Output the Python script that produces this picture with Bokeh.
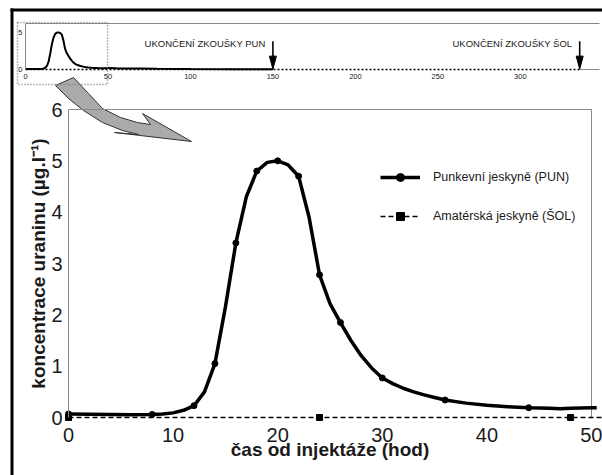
from bokeh.plotting import figure
from bokeh.models import (Range1d, FixedTicker, Legend, LegendItem, LinearAxis)
from bokeh.core.properties import value
from bokeh.embed import file_html
from bokeh.resources import INLINE

# ---------------- data ----------------
# Punkevní jeskyně (PUN) – curve
pun_curve_hours = [0, 2, 4, 6, 8, 9, 10, 11, 12, 13, 14, 15, 16, 17, 18, 19, 20, 21,
                   22, 23, 24, 25, 26, 27, 28, 29, 30, 31, 32, 33, 34, 35, 36, 38,
                   40, 42, 44, 46, 47, 48, 50, 50.5]
pun_curve_vals = [0.07, 0.065, 0.06, 0.055, 0.06, 0.07, 0.09, 0.14, 0.23, 0.5, 1.05,
                  2.15, 3.4, 4.3, 4.8, 4.97, 5.0, 4.92, 4.7, 3.9, 2.78, 2.22, 1.85,
                  1.5, 1.2, 0.96, 0.77, 0.66, 0.57, 0.5, 0.44, 0.39, 0.34, 0.28,
                  0.24, 0.21, 0.19, 0.18, 0.17, 0.18, 0.19, 0.19]
# PUN sampled points (markers)
pun_marker_hours = [0, 8, 12, 14, 16, 18, 20, 22, 24, 26, 30, 36, 44]
pun_marker_vals = [0.07, 0.06, 0.23, 1.05, 3.4, 4.8, 5.0, 4.7, 2.78, 1.85, 0.77, 0.34, 0.19]
# PUN tail after 50 h (inset only)
pun_tail_hours = [55, 60, 70, 80, 100, 125, 150]
pun_tail_vals = [0.17, 0.15, 0.12, 0.09, 0.06, 0.04, 0.03]

# Amatérská jeskyně (ŠOL) – sampled every 24 h, all zero
sol_hours = [0, 24, 48, 72, 96, 120, 144, 168, 192, 216, 240, 264, 288, 312, 336]
sol_vals = [0, 0, 0, 0, 0, 0, 0, 0, 0, 0, 0, 0, 0, 0, 0]

# end of the tests (hours)
test_end_hours = [150, 336]
test_end_texts = ["UKONČENÍ ZKOUŠKY PUN", "UKONČENÍ ZKOUŠKY ŠOL"]

main_x_ticks = [0, 10, 20, 30, 40, 50]
main_y_ticks = [0, 1, 2, 3, 4, 5, 6]
inset_x_ticks = [0, 50, 100, 150, 200, 250, 300]
inset_y_ticks = [0, 5]

x_title = "čas od injektáže (hod)"
y_title = "koncentrace uraninu (µg.l⁻¹)"
pun_label = "Punkevní jeskyně (PUN)"
sol_label = "Amatérská jeskyně (ŠOL)"

# ---------------- layout constants (page pixels) ----------------
FONT = "Liberation Sans"
GRAY = "#888888"
TXT = "#1a1a1a"
CX0, CY0, CW, CH = 0, 0, 602, 475           # canvas on the page
CX1, CY1 = CX0 + CW, CY0 + CH

# main plot box (page px) and its data limits
M_L, M_R, M_T, M_B = 68, 591, 109, 417
M_XMAX, M_YMAX = 50.0, 6.0
# inset box (page px) and its data limits
I_L, I_R, I_T, I_B = 25, 599, 23, 69
I_XMAX, I_YMAX = 348.0, 6.2


def span(p0, p1, d0, d1, c0, c1):
    """range over canvas pixels c0..c1 so that pixel p0->d0 and p1->d1"""
    k = (d1 - d0) / (p1 - p0)
    return Range1d(d0 + (c0 - p0) * k, d0 + (c1 - p0) * k)


p = figure(width=CW, height=CH,
           x_range=span(M_L, M_R, 0, M_XMAX, CX0, CX1),
           y_range=span(M_B, M_T, 0, M_YMAX, CY1, CY0),
           x_axis_location=None, y_axis_location=None,
           output_backend="svg", toolbar_location=None,
           min_border=0, min_border_left=0, min_border_right=0,
           min_border_top=0, min_border_bottom=0)
p.extra_x_ranges = {"ix": span(I_L, I_R, 0, I_XMAX, CX0, CX1), "px": Range1d(CX0, CX1)}
p.extra_y_ranges = {"iy": span(I_B, I_T, 0, I_YMAX, CY1, CY0), "py": Range1d(CY1, CY0)}
p.grid.visible = False
p.outline_line_color = None


def style_axis(ax, size):
    ax.axis_line_color = GRAY
    ax.major_tick_line_color = None
    ax.minor_tick_line_color = None
    ax.major_tick_out = 0
    ax.major_tick_in = 0
    ax.major_label_text_font = FONT
    ax.major_label_text_font_size = size
    ax.major_label_text_color = TXT


# ---------------- decorations: page border, zoom box, pointer ----------------
p.segment(x0=[10, 11.5], y0=[9.5, 8], x1=[CX1, 11.5], y1=[9.5, CY1],
          x_range_name="px", y_range_name="py", line_color="black", line_width=3)

# curved grey pointer (page px)
arrow_px = [(55, 85), (73, 77), (88, 93), (102, 108), (120, 117), (137, 122), (150, 124),
            (142, 113), (191, 141), (114, 132), (138, 134), (122, 130), (102, 122),
            (83, 110), (68, 98)]
p.patch([a for a, b in arrow_px], [b for a, b in arrow_px],
        x_range_name="px", y_range_name="py",
        fill_color="#aaaaaa", line_color="#333333", line_width=1)

# ---------------- inset ----------------
# inset frame top line and the bare axis after the ŠOL test end
p.segment(x0=[0, test_end_hours[1]], y0=[I_YMAX, 0], x1=[I_XMAX, I_XMAX], y1=[I_YMAX, 0],
          x_range_name="ix", y_range_name="iy", line_color=GRAY, line_width=1)
iax = LinearAxis(x_range_name="ix", y_range_name="iy", fixed_location=0,
                 bounds=(0, I_XMAX), ticker=FixedTicker(ticks=inset_x_ticks))
style_axis(iax, "7.5px")
iax.axis_line_color = None
iax.major_label_standoff = 4
p.add_layout(iax, "below")
iay = LinearAxis(x_range_name="ix", y_range_name="iy", fixed_location=0,
                 bounds=(0, I_YMAX), ticker=FixedTicker(ticks=inset_y_ticks))
style_axis(iay, "7.5px")
iay.major_label_standoff = 3
p.add_layout(iay, "left")

p.line(sol_hours, sol_vals, x_range_name="ix", y_range_name="iy",
       line_color="black", line_width=1.5, line_dash="2 2")
p.line(pun_curve_hours + pun_tail_hours, pun_curve_vals + pun_tail_vals,
       x_range_name="ix", y_range_name="iy", line_color="black", line_width=2)

# end-of-test arrows
HEAD_HALF_W, HEAD_LEN = 3.5 / 1.65, 13 / 7.42   # in inset units
p.segment(x0=test_end_hours, y0=[3.8] * 2, x1=test_end_hours, y1=[1.0] * 2,
          x_range_name="ix", y_range_name="iy", line_color="black", line_width=1.6)
p.patches(xs=[[h - HEAD_HALF_W, h + HEAD_HALF_W, h] for h in test_end_hours],
          ys=[[HEAD_LEN + 0.05, HEAD_LEN + 0.05, 0.05] for h in test_end_hours],
          x_range_name="ix", y_range_name="iy", color="black")
p.text(x=[h - 4.5 for h in test_end_hours], y=[3.5] * 2, text=test_end_texts,
       x_range_name="ix", y_range_name="iy", text_align="right",
       text_baseline="middle", text_font=value(FONT), text_font_size="9.5px",
       text_color=TXT)

# dotted zoom box (page px)
p.quad(left=[17], right=[107], top=[22], bottom=[84], x_range_name="px", y_range_name="py",
       fill_alpha=0, line_color="#777777", line_width=1.5, line_dash="1 2")

# ---------------- main plot ----------------
p.segment(x0=[0, M_XMAX], y0=[M_YMAX, 0], x1=[M_XMAX, M_XMAX], y1=[M_YMAX, M_YMAX],
          line_color=GRAY, line_width=1)
max_ = LinearAxis(fixed_location=0, bounds=(0, M_XMAX), ticker=FixedTicker(ticks=main_x_ticks),
                  axis_label=x_title)
may = LinearAxis(fixed_location=0, bounds=(0, M_YMAX), ticker=FixedTicker(ticks=main_y_ticks),
                 axis_label=y_title)
for ax in (max_, may):
    style_axis(ax, "20px")
    ax.axis_label_text_font = FONT
    ax.axis_label_text_font_size = "19px"
    ax.axis_label_text_font_style = "bold"
    ax.axis_label_text_color = TXT
max_.axis_line_color = None
max_.major_label_standoff = 10
max_.axis_label_standoff = -6
may.major_label_standoff = 6
may.axis_label_standoff = -1
p.add_layout(max_, "below")
p.add_layout(may, "left")

sol_line = p.line(sol_hours, sol_vals, line_color="black", line_width=1.5, line_dash="5 3")
sol_pts = p.scatter(sol_hours, sol_vals, marker="square", size=6, color="black")
pun_line = p.line(pun_curve_hours, pun_curve_vals, line_color="black", line_width=3.5)
pun_pts = p.scatter(pun_marker_hours, pun_marker_vals, marker="circle", size=6, color="black")

legend = Legend(items=[LegendItem(label=pun_label, renderers=[pun_line, pun_pts]),
                       LegendItem(label=sol_label, renderers=[sol_line, sol_pts])],
                location=(380 - CX0, CY1 - 226), padding=0, margin=0,
                glyph_width=40, glyph_height=20, spacing=19, label_standoff=13,
                label_text_font=FONT, label_text_font_size="12.5px",
                label_text_color=TXT, background_fill_alpha=0, border_line_color=None)
p.add_layout(legend)

open("out.html", "w").write(file_html(p, INLINE))
